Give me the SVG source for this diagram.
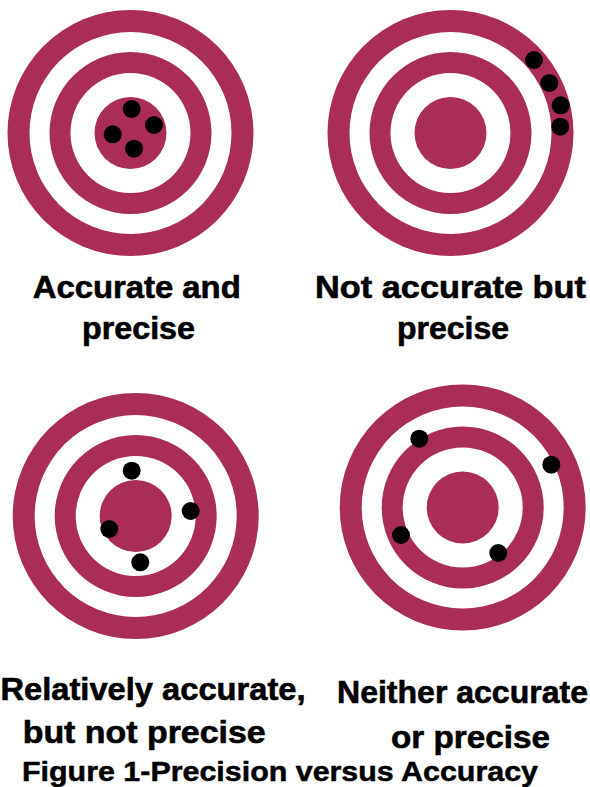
<svg xmlns="http://www.w3.org/2000/svg" width="590" height="787" viewBox="0 0 590 787">
<style>
.m{fill:#A92D58}
.w{fill:#ffffff}
.d{fill:#000000}
.t{font-family:"Liberation Sans",Arial,sans-serif;font-weight:700;font-size:32px;fill:#000;stroke:#000;stroke-width:0.6}
.c{font-family:"Liberation Sans",Arial,sans-serif;font-weight:700;font-size:28px;fill:#000;stroke:#000;stroke-width:0.5}
</style>
<defs>
<g id="target">
<circle class="m" r="123"/>
<circle class="w" r="101"/>
<circle class="m" r="81"/>
<circle class="w" r="60"/>
<circle class="m" r="36"/>
</g>
</defs>
<rect width="590" height="787" fill="#ffffff"/>
<g id="target-accurate-precise">
<use href="#target" x="130.5" y="133"/>
<circle class="d" cx="131.7" cy="109" r="9"/>
<circle class="d" cx="154" cy="125" r="9"/>
<circle class="d" cx="112.7" cy="134.3" r="9"/>
<circle class="d" cx="134" cy="148.7" r="9"/>
<text class="t" x="32.7" y="297.5" textLength="208" lengthAdjust="spacingAndGlyphs">Accurate and</text>
<text class="t" x="82" y="339" textLength="113" lengthAdjust="spacingAndGlyphs">precise</text>
</g>
<g id="target-not-accurate-precise">
<use href="#target" x="450.5" y="133"/>
<circle class="d" cx="534" cy="60" r="9"/>
<circle class="d" cx="549.3" cy="83" r="9"/>
<circle class="d" cx="560.7" cy="105.3" r="9"/>
<circle class="d" cx="560.3" cy="126.7" r="9"/>
<text class="t" x="315" y="297.5" textLength="271" lengthAdjust="spacingAndGlyphs">Not accurate but</text>
<text class="t" x="397" y="339" textLength="112" lengthAdjust="spacingAndGlyphs">precise</text>
</g>
<g id="target-relatively-accurate">
<use href="#target" x="135.7" y="516"/>
<circle class="d" cx="131.7" cy="470.7" r="9"/>
<circle class="d" cx="190.7" cy="511" r="9"/>
<circle class="d" cx="109.3" cy="529" r="9"/>
<circle class="d" cx="140.3" cy="562.3" r="9"/>
<text class="t" x="0.5" y="700" textLength="305" lengthAdjust="spacingAndGlyphs">Relatively accurate,</text>
<text class="t" x="22.7" y="743" textLength="243" lengthAdjust="spacingAndGlyphs">but not precise</text>
</g>
<g id="target-neither">
<use href="#target" x="462.7" y="507.5"/>
<circle class="d" cx="419.3" cy="438.7" r="9"/>
<circle class="d" cx="551.3" cy="464.7" r="9"/>
<circle class="d" cx="401" cy="535" r="9"/>
<circle class="d" cx="498.3" cy="553" r="9"/>
<text class="t" x="337" y="702.5" textLength="251" lengthAdjust="spacingAndGlyphs">Neither accurate</text>
<text class="t" x="391" y="748" textLength="159" lengthAdjust="spacingAndGlyphs">or precise</text>
</g>
<g id="caption">
<text class="c" x="22" y="781" textLength="516" lengthAdjust="spacingAndGlyphs">Figure 1-Precision versus Accuracy</text>
</g>
</svg>
